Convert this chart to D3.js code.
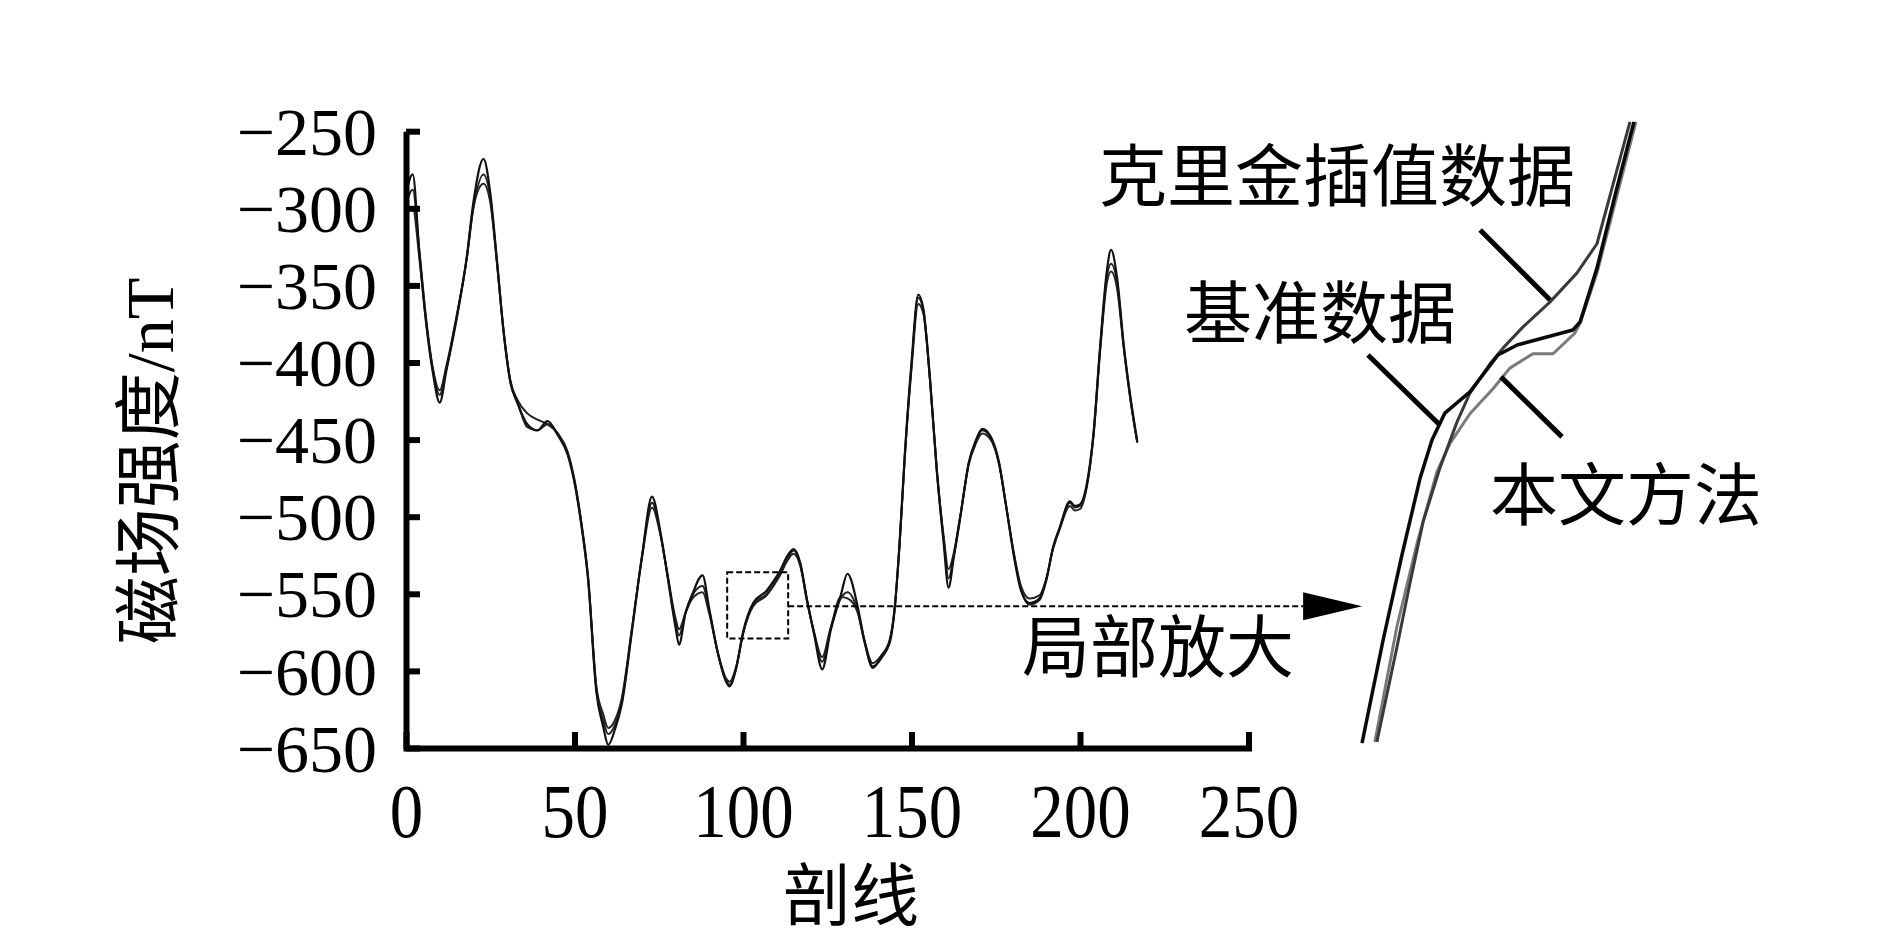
<!DOCTYPE html>
<html><head><meta charset="utf-8">
<script src="https://cdn.jsdelivr.net/npm/d3@7"></script>
<style>
html,body{margin:0;padding:0;background:#fff;}
svg{display:block;}
</style></head>
<body>
<svg id="chart" width="1887" height="944"></svg>
<script>
// ---------- data ----------
const xs = [0,2,4,6,8,10,12,15,18,20,23,25,27,29,31,33,36,39,42,45,48,50,52,54,56.5,58.5,60,62,64,67,70,73,75.5,77.5,80,81,83,85,88,90,92.5,95,96,98,100,103,107,109,111,113,115,117,119,121,123.5,126,129,131,134,136,138.5,141,143.5,145,146.5,148,150,152,153.5,155.5,157.5,159.5,161,162.5,164.5,167,169,171,173.5,176,178,180.5,182.5,185,188,190,192,194,197,198.5,200,202,204,206,208,209.2,211,213,215,217];
const baseVals = [-290,-278,-330,-375,-407,-426,-405,-372,-332,-296,-268,-290,-334,-381,-413,-426,-440,-444,-438,-447,-460,-478,-505,-540,-614,-636,-648,-638,-622,-575,-526,-487,-510,-537,-572,-583,-562,-550,-538,-560,-588,-607,-610,-598,-575,-556,-548,-542,-535,-526,-521,-530,-554,-575,-599,-574,-551,-537,-558,-580,-598,-591,-582,-560,-516,-460,-400,-356,-365,-411,-470,-516,-546,-527,-500,-465,-451,-443,-448,-465,-492,-527,-548,-556,-553,-541,-520,-507,-490,-493,-492,-479,-446,-389,-340,-327,-345,-389,-423,-451];
const krigVals = [-297,-288,-328,-372,-404,-418,-402,-370,-333,-300,-278,-293,-335,-380,-412,-424,-433,-437,-440,-446,-458,-476,-503,-538,-610,-628,-637,-632,-618,-573,-527,-494,-512,-536,-566,-573,-562,-553,-549,-563,-588,-605,-607,-597,-576,-558,-551,-545,-538,-529,-524,-532,-555,-574,-591,-572,-553,-549,-561,-580,-595,-590,-580,-559,-517,-462,-404,-362,-368,-412,-469,-512,-534,-524,-499,-466,-453,-446,-450,-466,-492,-525,-545,-553,-551,-540,-521,-508,-493,-496,-495,-481,-448,-392,-348,-341,-352,-391,-425,-452];
const propVals = [-303,-300,-333,-374,-405,-421,-404,-371,-333,-299,-284,-296,-336,-381,-413,-425,-442,-444,-440,-446,-459,-477,-504,-539,-612,-632,-641,-635,-620,-574,-526,-491,-511,-537,-569,-577,-562,-551,-545,-561,-588,-606,-609,-598,-576,-557,-550,-544,-537,-528,-522,-531,-554,-575,-594,-573,-552,-553,-562,-581,-597,-592,-581,-560,-516,-461,-402,-358,-366,-411,-470,-514,-540,-526,-500,-465,-452,-444,-449,-466,-492,-526,-547,-557,-554,-541,-520,-507,-491,-494,-493,-480,-447,-390,-344,-336,-348,-390,-424,-452];

const xTicks = [0,50,100,150,200,250];
const yTicks = [-250,-300,-350,-400,-450,-500,-550,-600,-650];
const xTitle = "剖线";
const yTitle = "磁场强度/nT";

// zoom box & arrow (data coordinates of main chart)
const zoomBox = {x0:95.3, x1:113.4, y0:-536, y1:-579};
const arrowY = -558, arrowBaseX = 266.2, arrowTipX = 283.7;
const zoomLabel = "局部放大";

// inset (enlarged detail) in its own units
const insetBase = [[9.7,0.3],[16.1,16.8],[21.8,30.4],[27.3,42.7],[30.9,48.8],[34.8,53.1],[42.4,56.5],[50.9,62.4],[56.7,64.0],[73.6,66.4],[75.8,67.7],[80.9,76.3],[86.4,88.0],[92.1,99.7]];
const insetKrig = [[14.2,0.5],[20.3,15.7],[24.2,25.8],[28.2,35.7],[33.3,44.3],[38.5,51.7],[42.4,56.3],[48.5,61.0],[52.4,63.5],[58.5,66.9],[66.7,70.9],[74.8,75.5],[80.9,80.2],[90.9,99.7]];
const insetProp = [[13.6,0.5],[20.3,19.0],[26.4,32.3],[32.4,43.7],[36.4,48.3],[42.4,53.0],[49.4,57.0],[54.5,60.3],[61.5,62.6],[67.6,62.6],[74.2,65.9],[75.8,67.5],[80.9,75.5],[92.7,99.7]];
const insetLeaders = [
  {name:"克里金插值数据", from:[45.5,82.4], to:[66.7,71.2]},
  {name:"基准数据", from:[11.5,62.4], to:[33.3,51.2]},
  {name:"本文方法", from:[51.8,58.9], to:[70.3,49.3]}
];
const insetLabels = ["克里金插值数据","基准数据","本文方法"];

// ---------- layout ----------
const svg = d3.select("#chart");
svg.append("rect").attr("width",1887).attr("height",944).attr("fill","#fff");

const X0 = 406, X1 = 1248.5, Y0 = 748, Y1 = 131.2;
const x = d3.scaleLinear().domain([0,250]).range([X0,X1]);
const y = d3.scaleLinear().domain([-650,-250]).range([Y0,Y1]);

const serif = "'Liberation Serif','Times New Roman',serif";
const cjk = "'Liberation Serif','Noto Sans CJK SC',serif";

// lines
const line = d3.line().x((d,i)=>x(xs[i])).y(d=>y(d)).curve(d3.curveMonotoneX);
const series = [
  {vals:krigVals, color:"#222", w:2},
  {vals:propVals, color:"#222", w:2},
  {vals:baseVals, color:"#111", w:2.2}
];
svg.append("g").selectAll("path").data(series).join("path")
  .attr("d",s=>line(s.vals)).attr("fill","none")
  .attr("stroke",s=>s.color).attr("stroke-width",s=>s.w)
  .attr("stroke-linejoin","round");

// y axis
const yAxis = d3.axisLeft(y).tickValues(yTicks).tickSize(-14).tickSizeOuter(0).tickPadding(29)
  .tickFormat(d=>"\u2212"+Math.abs(d));
const gy = svg.append("g").attr("transform",`translate(${X0},0)`).call(yAxis);
gy.select(".domain").attr("stroke","#000").attr("stroke-width",6);
gy.selectAll(".tick line").attr("stroke","#000").attr("stroke-width",6);
gy.selectAll(".tick text").attr("font-family",serif).attr("font-size",68).attr("fill","#000")
  .attr("dy","0.34em");

// x axis
const xAxis = d3.axisBottom(x).tickValues(xTicks).tickSize(-16).tickSizeOuter(-16);
const gx = svg.append("g").attr("transform",`translate(0,${Y0})`).call(xAxis);
gx.select(".domain").attr("stroke","#000").attr("stroke-width",6);
gx.selectAll(".tick line").attr("stroke","#000").attr("stroke-width",6);
gx.selectAll(".tick").filter(d=>d===0).select("line").remove();
gx.selectAll(".tick text").attr("font-family",serif).attr("font-size",76).attr("fill","#000")
  .attr("y",89).attr("dy",0).attr("transform","scale(0.88,1)");

// axis titles
svg.append("text").attr("x",851).attr("y",897).attr("text-anchor","middle").attr("dominant-baseline","central")
  .attr("font-family",cjk).attr("font-size",68).attr("fill","#000").text(xTitle);
svg.append("text").attr("transform","translate(150,461) rotate(-90)").attr("text-anchor","middle").attr("dominant-baseline","central")
  .attr("font-family",cjk).attr("font-size",68).attr("fill","#000").text(yTitle);

// zoom box and arrow
svg.append("rect").attr("x",x(zoomBox.x0)).attr("y",y(zoomBox.y0))
  .attr("width",x(zoomBox.x1)-x(zoomBox.x0)).attr("height",y(zoomBox.y1)-y(zoomBox.y0))
  .attr("fill","none").attr("stroke","#000").attr("stroke-width",2).attr("stroke-dasharray","6,3");
svg.append("line").attr("x1",x(zoomBox.x1)).attr("x2",x(arrowBaseX)).attr("y1",y(arrowY)).attr("y2",y(arrowY))
  .attr("stroke","#000").attr("stroke-width",2).attr("stroke-dasharray","6,3");
svg.append("path")
  .attr("d",`M${x(arrowBaseX)},${y(arrowY)-14}L${x(arrowTipX)},${y(arrowY)}L${x(arrowBaseX)},${y(arrowY)+14}Z`)
  .attr("fill","#000");
svg.append("text").attr("x",1022).attr("y",649).attr("dominant-baseline","central")
  .attr("font-family",cjk).attr("font-size",68).attr("fill","#000").text(zoomLabel);

// inset
const ix = d3.scaleLinear().domain([0,100]).range([1330,1660]);
const iy = d3.scaleLinear().domain([0,100]).range([745,120]);
const iline = d3.line().x(d=>ix(d[0])).y(d=>iy(d[1]));
const insetSeries = [
  {pts:insetProp, color:"#7a7a7a", w:3},
  {pts:insetKrig, color:"#3a3a3a", w:3},
  {pts:insetBase, color:"#0a0a0a", w:3.5}
];
svg.append("g").selectAll("path").data(insetSeries).join("path")
  .attr("d",s=>iline(s.pts)).attr("fill","none").attr("stroke",s=>s.color).attr("stroke-width",s=>s.w)
  .attr("stroke-linejoin","round");
svg.append("g").selectAll("line").data(insetLeaders).join("line")
  .attr("x1",d=>ix(d.from[0])).attr("y1",d=>iy(d.from[1]))
  .attr("x2",d=>ix(d.to[0])).attr("y2",d=>iy(d.to[1]))
  .attr("stroke","#000").attr("stroke-width",5);
const labelPos = [[1099,178],[1184,315],[1490,497]];
svg.append("g").selectAll("text").data(insetLabels).join("text")
  .attr("x",(d,i)=>labelPos[i][0]).attr("y",(d,i)=>labelPos[i][1]).attr("dominant-baseline","central")
  .attr("font-family",cjk).attr("font-size",68).attr("fill","#000").text(d=>d);
</script>
</body></html>
